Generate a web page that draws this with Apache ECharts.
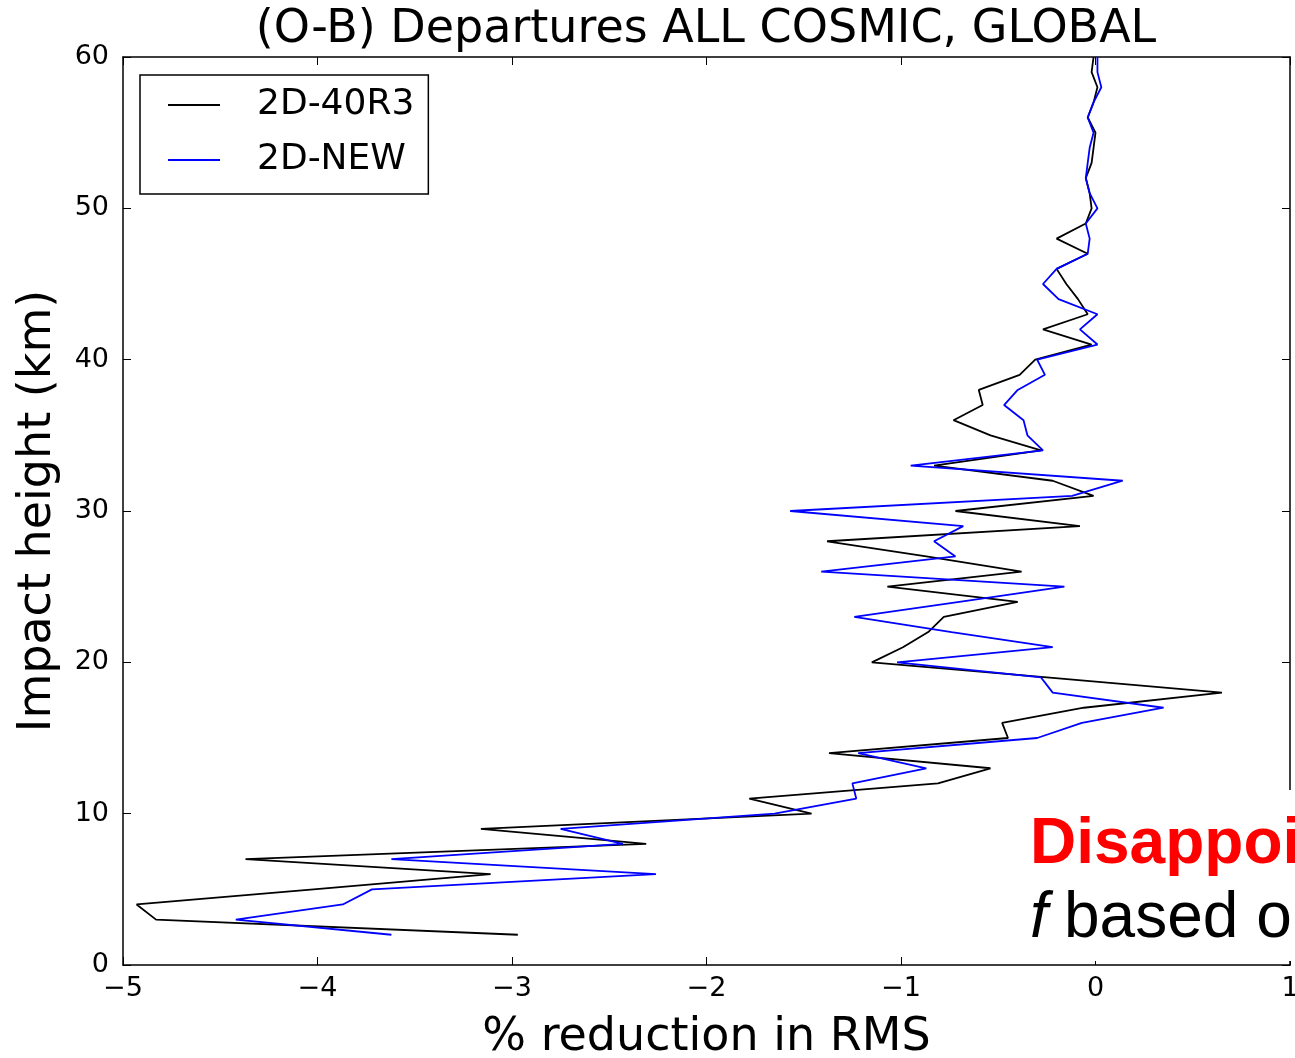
<!DOCTYPE html>
<html>
<head>
<meta charset="utf-8">
<script src="https://cdn.jsdelivr.net/npm/echarts@6/dist/echarts.min.js"></script>
<style>
html,body{margin:0;padding:0;background:#fff;overflow:hidden;}
#chart{width:1295px;height:1058px;}
</style>
</head>
<body>
<div id="chart"></div>
<script>
// Impact heights (km)
const heights = [2,3,4,5,6,7,8,9,10,11,12,13,14,15,16,17,18,19,20,21,22,23,24,25,26,27,28,29,30,31,32,33,34,35,36,37,38,39,40,41,42,43,44,45,46,47,48,49,50,51,52,53,54,55,56,57,58,59,60];
// % reduction in RMS, 2D-40R3
const black40R3 = [-2.97,-4.83,-4.93,-4.02,-3.11,-4.37,-2.31,-3.16,-1.46,-1.78,-0.81,-0.54,-1.37,-0.45,-0.48,-0.06,0.65,-0.25,-1.15,-0.99,-0.86,-0.78,-0.40,-1.07,-0.38,-0.87,-1.38,-0.08,-0.72,-0.01,-0.22,-0.83,-0.28,-0.54,-0.73,-0.58,-0.60,-0.39,-0.31,-0.02,-0.27,-0.04,-0.09,-0.15,-0.20,-0.04,-0.20,-0.05,-0.02,-0.03,-0.05,-0.02,-0.01,0.00,-0.04,-0.01,0.01,-0.02,-0.01];
// % reduction in RMS, 2D-NEW
const blueNEW = [-3.62,-4.42,-3.87,-3.72,-2.26,-3.62,-2.43,-2.75,-1.65,-1.23,-1.25,-0.87,-1.22,-0.30,-0.07,0.35,-0.22,-0.28,-1.02,-0.22,-0.74,-1.24,-0.70,-0.16,-1.41,-0.72,-0.83,-0.68,-1.57,-0.12,0.14,-0.95,-0.27,-0.35,-0.37,-0.47,-0.40,-0.26,-0.30,0.01,-0.08,0.01,-0.19,-0.27,-0.20,-0.04,-0.03,-0.05,0.01,-0.03,-0.05,-0.04,-0.03,-0.01,-0.04,-0.01,0.03,0.01,0.01];
const seriesNames = ['2D-40R3','2D-NEW'];
const titleText = '(O-B) Departures ALL COSMIC, GLOBAL';
const xName = '% reduction in RMS';
const yName = 'Impact height (km)';
const noteRed = 'Disappoi';
const noteF = 'f';
const noteRest = 'based on';

const FONT = 'DejaVu Sans';
const fmtX = v => v < 0 ? '\u2212' + Math.abs(v) : String(v);

const chart = echarts.init(document.getElementById('chart'), null, {renderer:'canvas', width:1295, height:1058});
const tickCommon = {inside:true, length:8, lineStyle:{color:'#000', width:1}};
const lineCommon = {show:true, onZero:false, lineStyle:{color:'#000', width:1.5}};

chart.setOption({
  animation:false,
  backgroundColor:'#fff',
  grid:{left:123, right:5, top:57, bottom:93, containLabel:false, outerBoundsMode:'none'},
  xAxis:[{
    type:'value', min:-5, max:1, interval:1, position:'bottom',
    axisLine:lineCommon, axisTick:tickCommon, splitLine:{show:false},
    axisLabel:{fontFamily:FONT, fontSize:27, color:'#000', margin:10, formatter:fmtX},
    name:xName, nameLocation:'middle', nameGap:50,
    nameTextStyle:{fontFamily:FONT, fontSize:46, color:'#000'}
  },{
    type:'value', min:-5, max:1, interval:1, position:'top',
    axisLine:lineCommon, axisTick:tickCommon, splitLine:{show:false},
    axisLabel:{show:false}
  }],
  yAxis:[{
    type:'value', min:0, max:60, interval:10, position:'left',
    axisLine:lineCommon, axisTick:tickCommon, splitLine:{show:false},
    axisLabel:{fontFamily:FONT, fontSize:27, color:'#000', margin:14},
    name:yName, nameLocation:'middle', nameGap:62,
    nameTextStyle:{fontFamily:FONT, fontSize:46, color:'#000'}
  },{
    type:'value', min:0, max:60, interval:10, position:'right',
    axisLine:lineCommon, axisTick:tickCommon, splitLine:{show:false},
    axisLabel:{show:false}
  }],
  legend:{
    orient:'vertical', left:140, top:75,
    backgroundColor:'#fff', borderColor:'#000', borderWidth:1.5, borderRadius:0,
    padding:[10,14,14,28],
    icon:'rect', itemWidth:52, itemHeight:2, itemGap:15,
    textStyle:{fontFamily:FONT, fontSize:36, color:'#000', lineHeight:40, padding:[0,0,0,32]},
    data:seriesNames
  },
  series:[{
    name:seriesNames[0], type:'line', showSymbol:false, symbol:'none',
    lineStyle:{color:'#000', width:1.8}, itemStyle:{color:'#000'},
    data:heights.map((h,i)=>[black40R3[i], h]), z:3
  },{
    name:seriesNames[1], type:'line', showSymbol:false, symbol:'none',
    lineStyle:{color:'#0000ff', width:1.8}, itemStyle:{color:'#0000ff'},
    data:heights.map((h,i)=>[blueNEW[i], h]), z:4
  }],
  graphic:[
    {type:'text', x:706, y:30, z:100, style:{text:titleText, fontFamily:FONT, fontSize:46, fill:'#000', textAlign:'center', textVerticalAlign:'middle'}},
    {type:'rect', z:100, shape:{x:1013, y:790, width:290, height:171}, style:{fill:'#fff'}},
    {type:'text', x:1030, y:813, z:101, style:{text:noteRed, fontFamily:'Liberation Sans', fontWeight:'bold', fontSize:64, fill:'#ff0000', textAlign:'left', textVerticalAlign:'top'}},
    {type:'text', x:1030, y:887, z:101, style:{text:noteF, fontFamily:'Liberation Sans', fontStyle:'italic', fontSize:64, fill:'#000', textAlign:'left', textVerticalAlign:'top'}},
    {type:'text', x:1064, y:887, z:101, style:{text:noteRest, fontFamily:'Liberation Sans', fontSize:64, fill:'#000', textAlign:'left', textVerticalAlign:'top'}}
  ]
});
</script>
</body>
</html>
